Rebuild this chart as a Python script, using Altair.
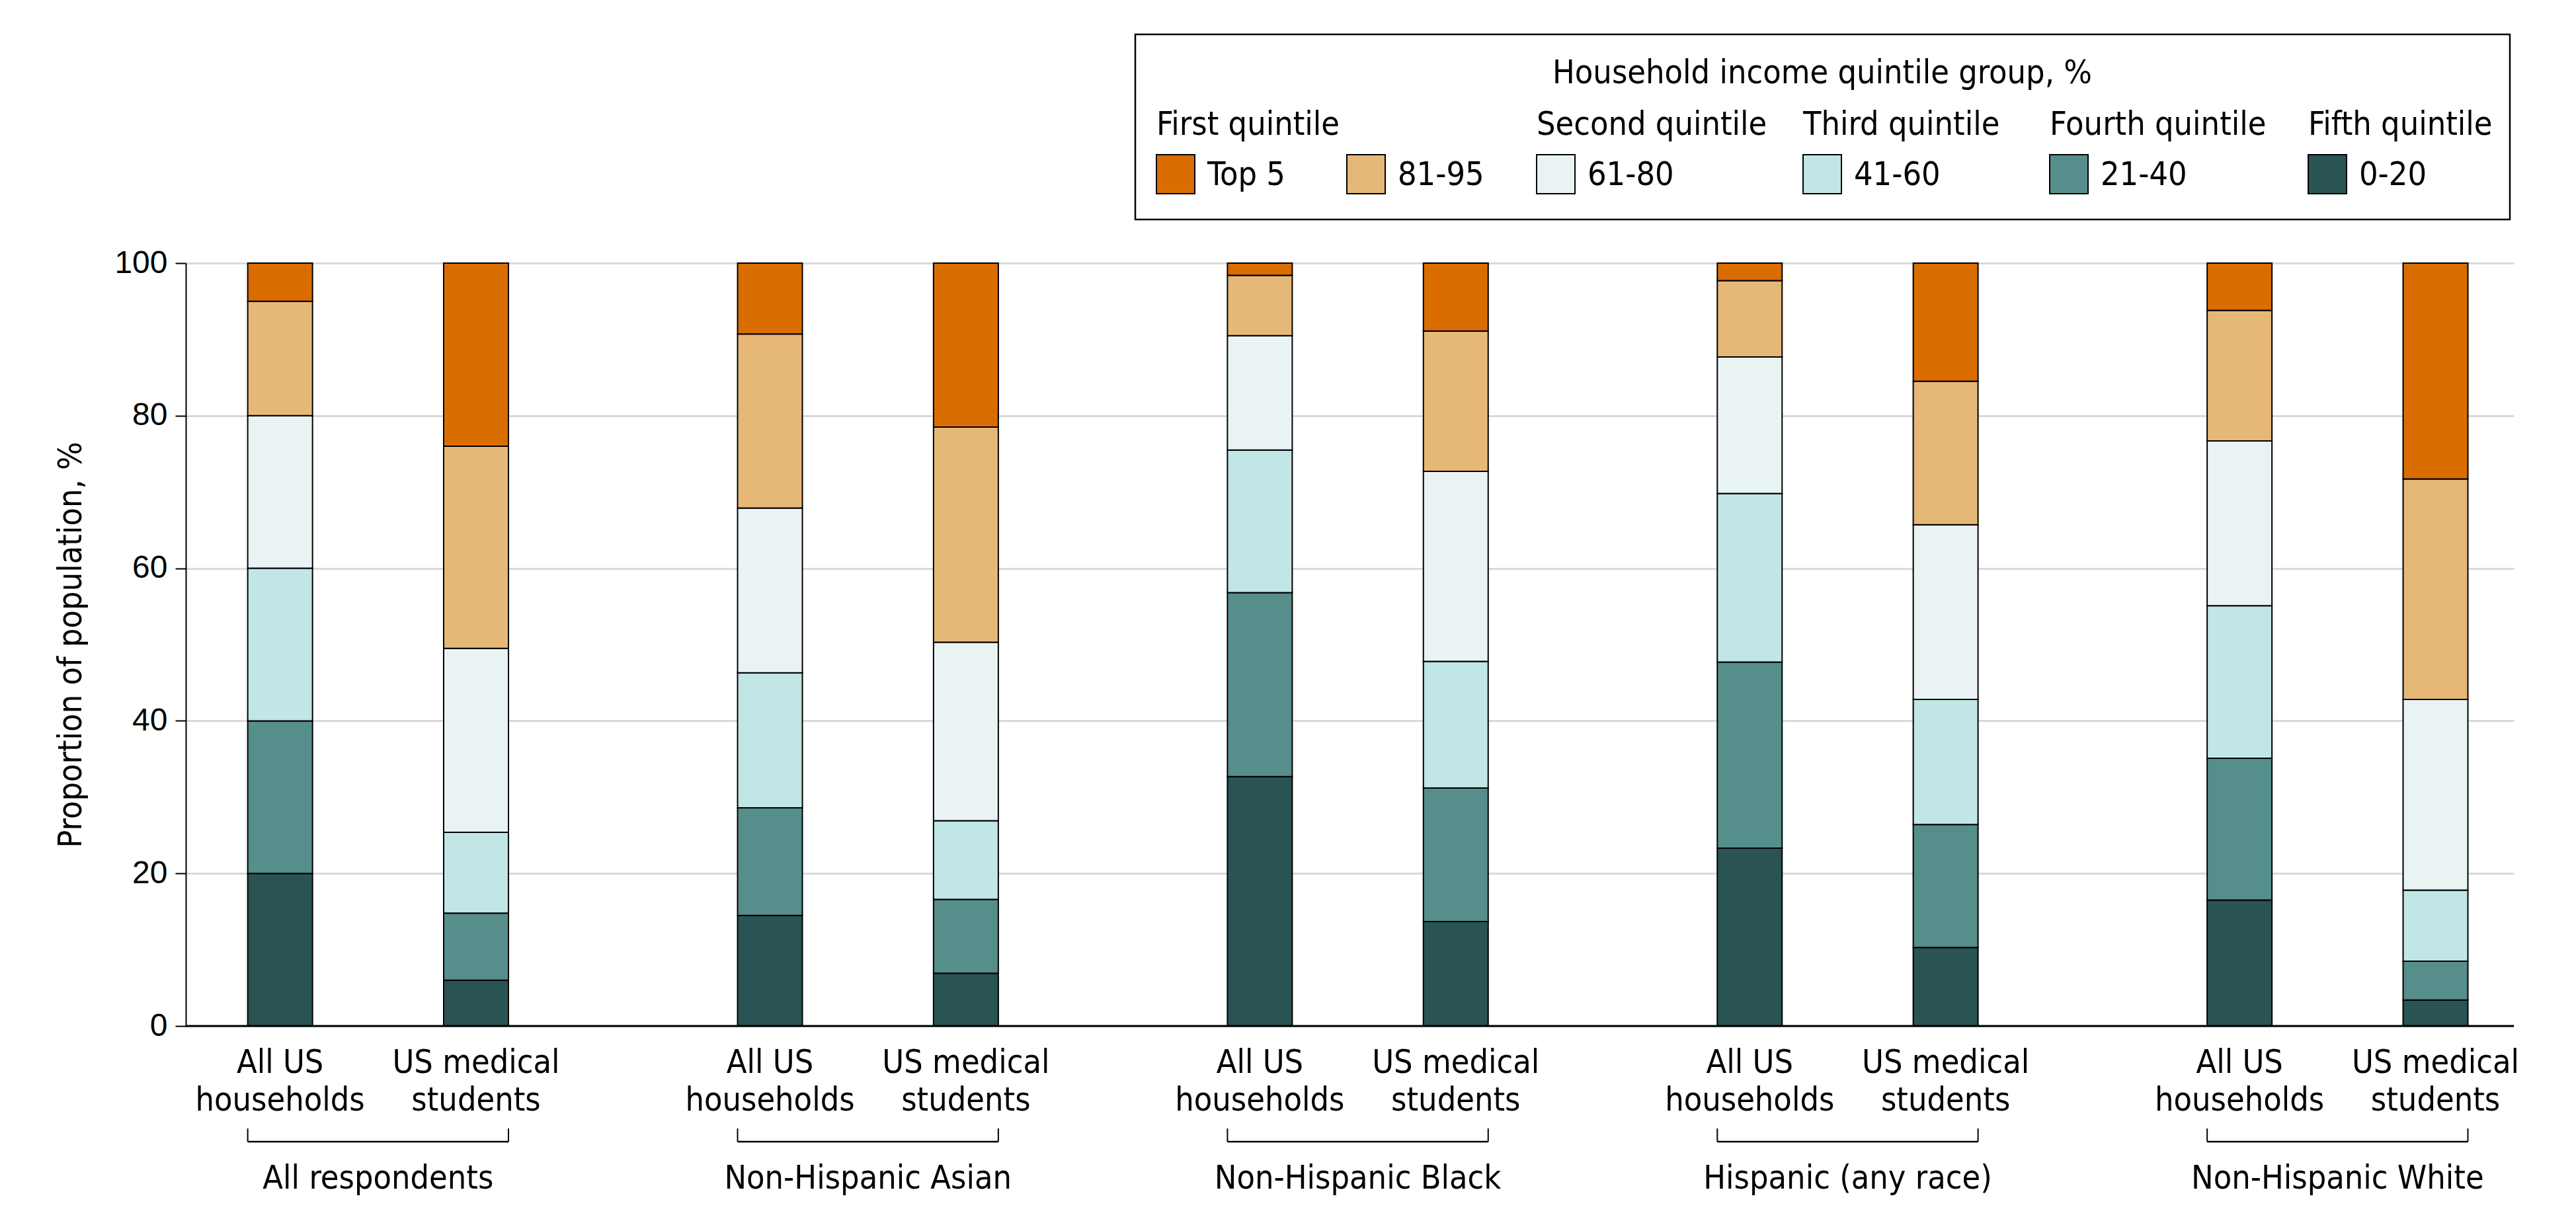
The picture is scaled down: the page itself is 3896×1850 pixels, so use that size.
import altair as alt
import pandas as pd

# ---------------- data ----------------
groups = ["All respondents", "Non-Hispanic Asian", "Non-Hispanic Black",
          "Hispanic (any race)", "Non-Hispanic White"]
populations = ["All US\nhouseholds", "US medical\nstudents"]
quintiles = ["0-20", "21-40", "41-60", "61-80", "81-95", "Top 5"]
quintile_colors = ["#2A5354", "#568E8C", "#C0E6E5", "#EAF3F4", "#E6B877", "#D96D00"]

# share (%) of each income group, bottom (0-20) to top (Top 5)
all_resp_households = [20.0, 20.0, 20.0, 20.0, 15.0, 5.0]
all_resp_students = [6.0, 8.8, 10.6, 24.1, 26.5, 24.0]
asian_households = [14.5, 14.1, 17.7, 21.6, 22.8, 9.3]
asian_students = [6.9, 9.7, 10.3, 23.4, 28.2, 21.5]
black_households = [32.7, 24.1, 18.7, 15.0, 7.9, 1.6]
black_students = [13.7, 17.5, 16.6, 24.9, 18.4, 8.9]
hispanic_households = [23.3, 24.4, 22.1, 17.9, 10.0, 2.3]
hispanic_students = [10.3, 16.1, 16.4, 22.9, 18.8, 15.5]
white_households = [16.5, 18.6, 20.0, 21.6, 17.1, 6.2]
white_students = [3.4, 5.1, 9.3, 25.0, 28.9, 28.3]

series = [
    (all_resp_households, all_resp_students),
    (asian_households, asian_students),
    (black_households, black_students),
    (hispanic_households, hispanic_students),
    (white_households, white_students),
]

legend_title = "Household income quintile group, %"
legend_headings = ["First quintile", "", "Second quintile", "Third quintile",
                   "Fourth quintile", "Fifth quintile"]
y_title = "Proportion of population, %"

# ---------------- layout ----------------
COND = "Liberation Sans Narrow, DejaVu Sans Condensed, Roboto Condensed, Arial Narrow, sans-serif"
W, H = 3521, 1154
BAR = 98
HALF = BAR / 2
FS = 50

rows = []
for g, pair in enumerate(series):
    for p, vals in enumerate(pair):
        for q, v in enumerate(vals):
            rows.append({"group": groups[g], "population": populations[p],
                         "quintile": quintiles[q], "qidx": q, "value": v,
                         "pos": 5 * g + 2 * p})
df = pd.DataFrame(rows)

xscale = alt.Scale(domain=[-0.929, 22.766], nice=False, zero=False)

bars = alt.Chart(df).mark_bar(size=BAR, stroke="black", strokeWidth=2).encode(
    x=alt.X("pos:Q", scale=xscale, axis=None),
    y=alt.Y("value:Q", stack="zero",
            scale=alt.Scale(domain=[0, 100], nice=False),
            axis=alt.Axis(values=[0, 20, 40, 60, 80, 100], title=y_title,
                          labelFont="Liberation Sans", labelFontSize=48,
                          labelColor="black", labelPadding=12,
                          tickColor="black", tickSize=16, tickWidth=2,
                          domainColor="black", domainWidth=2,
                          gridColor="#d9d9d9", gridWidth=3,
                          titleFont=COND, titleFontSize=FS,
                          titleFontWeight="normal", titleColor="black",
                          titlePadding=40)),
    color=alt.Color("quintile:N", scale=alt.Scale(domain=quintiles, range=quintile_colors),
                    legend=None),
    order=alt.Order("qidx:Q", sort="ascending"),
)

baseline = alt.Chart(pd.DataFrame({"v": [0]})).mark_rule(color="black", strokeWidth=3).encode(
    y=alt.Y("v:Q"))

lab_df = pd.DataFrame([{"pos": 5 * g + 2 * p, "text": populations[p]}
                       for g in range(len(groups)) for p in range(2)])
xlabels = alt.Chart(lab_df).mark_text(
    lineBreak="\n", baseline="alphabetic", align="center", font=COND,
    fontSize=FS, lineHeight=57, color="black").encode(
    x=alt.X("pos:Q", scale=xscale, axis=None), y=alt.value(H + 71), text="text:N")

br_df = pd.DataFrame([{"start": 5 * g, "end": 5 * g + 2, "mid": 5 * g + 1, "group": groups[g]}
                      for g in range(len(groups))])
br_h = alt.Chart(br_df).mark_rule(color="black", strokeWidth=2.5, xOffset=-HALF, x2Offset=HALF).encode(
    x=alt.X("start:Q", scale=xscale, axis=None), x2="end:Q", y=alt.value(H + 175))
br_l = alt.Chart(br_df).mark_rule(color="black", strokeWidth=2, xOffset=-HALF).encode(
    x=alt.X("start:Q", scale=xscale, axis=None), y=alt.value(H + 155), y2=alt.value(H + 175))
br_r = alt.Chart(br_df).mark_rule(color="black", strokeWidth=2, xOffset=HALF).encode(
    x=alt.X("end:Q", scale=xscale, axis=None), y=alt.value(H + 155), y2=alt.value(H + 175))
glabels = alt.Chart(br_df).mark_text(
    baseline="alphabetic", align="center", font=COND, fontSize=FS, color="black").encode(
    x=alt.X("mid:Q", scale=xscale, axis=None), y=alt.value(H + 246), text="group:N")

# ---------------- custom legend ----------------
leg_x = [1468, 1756, 2043, 2446, 2819, 3210]
order_top = list(range(len(quintiles)))[::-1]
leg_df = pd.DataFrame({
    "label": [quintiles[i] for i in order_top],
    "color": [quintile_colors[i] for i in order_top],
    "heading": legend_headings,
    "lx": leg_x,
    "lx2": [v + 58 for v in leg_x],
    "tx": [v + 77 for v in leg_x],
})

box = alt.Chart(pd.DataFrame({"a": [0]})).mark_rect(fill="white", stroke="black", strokeWidth=2.5).encode(
    x=alt.value(1436), x2=alt.value(3515), y=alt.value(-346), y2=alt.value(-66))
ltitle = alt.Chart(pd.DataFrame({"t": [legend_title]})).mark_text(
    baseline="alphabetic", align="center", font=COND, fontSize=FS, color="black").encode(
    x=alt.value(2475), y=alt.value(-272), text="t:N")
swatch = alt.Chart(leg_df).mark_rect(stroke="black", strokeWidth=2).encode(
    x=alt.X("lx:Q", scale=None, axis=None), x2="lx2:Q",
    y=alt.value(-164), y2=alt.value(-105),
    color=alt.Color("color:N", scale=None))
slabel = alt.Chart(leg_df).mark_text(
    baseline="alphabetic", align="left", font=COND, fontSize=FS, color="black").encode(
    x=alt.X("tx:Q", scale=None, axis=None), y=alt.value(-118), text="label:N")
shead = alt.Chart(leg_df).mark_text(
    baseline="alphabetic", align="left", font=COND, fontSize=FS, color="black").encode(
    x=alt.X("lx:Q", scale=None, axis=None), y=alt.value(-194), text="heading:N")

chart = alt.layer(
    bars, baseline, xlabels, br_h, br_l, br_r, glabels,
    box, ltitle, swatch, slabel, shead,
).properties(
    width=W, height=H,
    autosize=alt.AutoSizeParams(type="none"),
    padding={"left": 273, "top": 390, "right": 86, "bottom": 288},
    background="white",
).configure_view(stroke="white", strokeWidth=1)

chart.save("out.html", embed_options={"renderer": "svg", "actions": False})
